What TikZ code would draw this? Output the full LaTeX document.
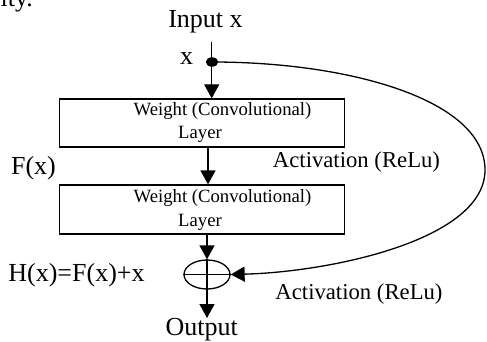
\documentclass[tikz,border=0pt]{standalone}
\usepackage{fontspec}
\setmainfont{Liberation Serif}
\usetikzlibrary{arrows.meta,shapes.geometric}
\begin{document}
\begin{tikzpicture}[x=1pt,y=-1pt,line width=1.3pt,
  big/.style={font=\fontsize{26}{30}\selectfont,inner sep=0pt,anchor=base},
  act/.style={font=\fontsize{22.7}{27}\selectfont,inner sep=0pt,anchor=base},
  small/.style={font=\fontsize{18.7}{22}\selectfont,inner sep=0pt,anchor=base},
  layerbox/.style={draw,rectangle,minimum width=284.5pt,minimum height=48pt,inner sep=0pt},
  flow/.style={-{Triangle[width=15pt,length=14pt]}},
]
\useasboundingbox (0,0) rectangle (487,342);

% stray text fragment at the upper left edge
\node[big,anchor=base west] (frag) at (0,7) {ity.};

% input and split point
\node[big] (in) at (205.5,27.7) {Input x};
\coordinate (top) at (211.7,41.7);
\node[ellipse,fill,inner sep=0pt,minimum width=12.5pt,minimum height=9.5pt] (split) at (212,62) {};
\node[big] (xlab) at (186.5,65) {x};

% the two weight layers
\node[layerbox] (conv1) at (202,123) {};
\node[small] (c1a) at (222.5,116) {Weight (Convolutional)};
\node[small] (c1b) at (200,139) {Layer};
\node[layerbox,minimum height=49pt] (conv2) at (202,209.5) {};
\node[small] (c2a) at (222.5,202.7) {Weight (Convolutional)};
\node[small] (c2b) at (200,226.7) {Layer};

% summation junction
\node[draw,ellipse,minimum width=46pt,minimum height=29pt,inner sep=0pt] (sum) at (207,274.5) {};
\draw (sum.north) -- (sum.south) (sum.west) -- (sum.east);
\coordinate (out) at (207,318);

% main path
\draw[flow] (top) -- (top |- conv1.north);
\draw[flow] ([xshift=6pt]conv1.south) -- ([xshift=6pt]conv2.north);
\draw[flow] (conv2.south -| sum.north) -- (sum.north);
\draw[flow] (sum.south) -- (out);

% identity shortcut
\draw[flow] (split.center) .. controls (350,62) and (485,100) .. (485,170)
  .. controls (485,240) and (330,272) .. (sum.east);

% labels
\node[big] (outlab) at (201.7,335) {Output};
\node[big] (flab) at (33.5,174) {F(x)};
\node[big] (hlab) at (76.5,281.7) {H(x)=F(x)+x};
\node[act] (act1) at (356.5,167) {Activation (ReLu)};
\node[act] (act2) at (359,299) {Activation (ReLu)};
\end{tikzpicture}
\end{document}
